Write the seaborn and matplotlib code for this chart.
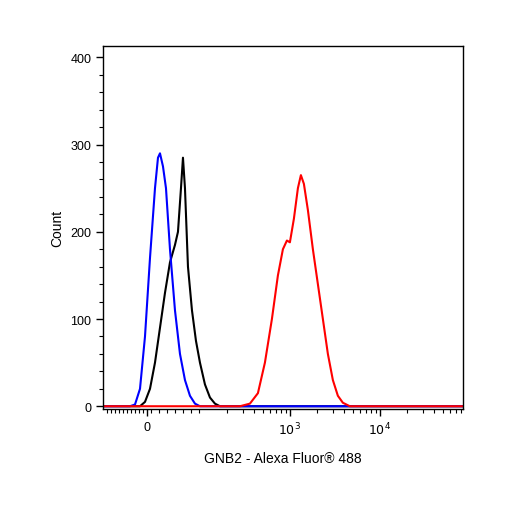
import matplotlib
matplotlib.use("Agg")
import matplotlib.pyplot as plt
import seaborn as sns
import numpy as np
import pandas as pd

sns.set_style("white")
plt.rcParams['font.family'] = ['Liberation Sans', 'DejaVu Sans']
plt.rcParams['text.color'] = 'black'
plt.rcParams['axes.labelcolor'] = 'black'
plt.rcParams['xtick.color'] = 'black'
plt.rcParams['ytick.color'] = 'black'

# x in display channel units (0 label at 147, 10^3 at 290, 10^4 at 380)
blue_x = [103,130,135,140,145,150,155,158,160,163,166,170,175,180,185,190,195,200,463]
blue_y = [0,0,2,20,80,170,250,285,290,275,250,180,110,60,30,12,3,0,0]
black_x = [103,140,145,150,155,160,165,170,175,178,181,183,185,188,192,196,200,205,210,215,220,463]
black_y = [0,0,5,20,50,90,130,165,185,200,250,285,250,160,110,75,50,25,10,3,0,0]
red_x = [103,240,250,258,265,272,278,283,287,290,294,298,301,304,308,313,318,323,328,333,338,343,350,463]
red_y = [0,0,3,15,50,100,150,180,190,188,215,250,265,255,225,180,140,100,60,30,12,4,0,0]

tick_pos = [147, 290, 380]
tick_labels = ["0", r"$10^3$", r"$10^4$"]

fig = plt.figure(figsize=(5.06, 5.06), dpi=100)
ax = fig.add_axes([0.2036, 0.19, 0.711, 0.717])
for xs, ys, c in [(black_x, black_y, "black"), (blue_x, blue_y, "blue"), (red_x, red_y, "red")]:
    sns.lineplot(x=xs, y=ys, color=c, lw=1.5, ax=ax, sort=False, estimator=None)

ax.set_xlim(103, 463)
ax.set_ylim(-3, 413)
ax.set_xticks(tick_pos)
ax.set_xticklabels(tick_labels, fontsize=9)
minors = list(np.arange(107, 147, 4)) + list(np.arange(151, 200, 8))
for d in [200, 290, 380]:
    minors += [d + 90*np.log10(m) for m in range(2, 10) if d + 90*np.log10(m) < 463]
ax.set_xticks(minors, minor=True)
ax.set_yticks([0, 100, 200, 300, 400])
ax.set_yticks(np.arange(0, 411, 20), minor=True)
ax.tick_params(axis='both', which='major', direction='out', length=5, width=1, labelsize=9, bottom=True, left=True)
ax.tick_params(axis='both', which='minor', direction='out', length=3, width=0.8, bottom=True, left=True)
for s in ax.spines.values():
    s.set_color("black"); s.set_linewidth(1)
ax.set_xlabel("GNB2 - Alexa Fluor® 488", fontsize=10, labelpad=10)
ax.set_ylabel("Count", fontsize=10)
fig.savefig("out.png", dpi=100)
